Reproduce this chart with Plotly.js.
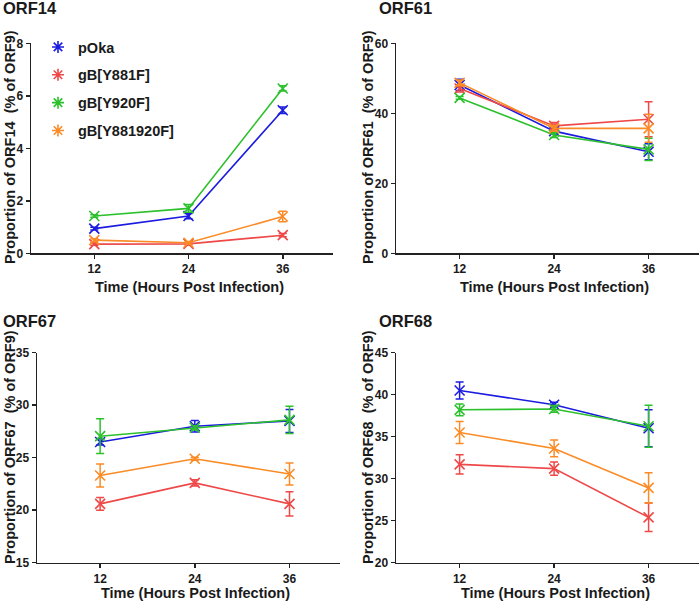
<!DOCTYPE html>
<html>
<head>
<meta charset="utf-8">
<script src="https://cdn.plot.ly/plotly-3.0.1.min.js"></script>
<style>html,body{margin:0;padding:0;background:#fff;}#chart{width:700px;height:607px;}</style>
</head>
<body>
<div id="chart"></div>
<script>
// ---- data ----
const hours = [12, 24, 36];
const seriesNames = ["pOka", "gB[Y881F]", "gB[Y920F]", "gB[Y881920F]"];
const seriesColors = ["#1c1ce0", "#ee4848", "#2cc12c", "#fb8b26"];

// ORF14
const orf14_pOka = [0.94, 1.42, 5.45];
const orf14_Y881F = [0.35, 0.36, 0.69];
const orf14_Y920F = [1.42, 1.71, 6.28];
const orf14_Y881920F = [0.50, 0.40, 1.40];
const orf14_err_pOka = [0.05, 0.1, 0.12];
const orf14_err_Y881F = [0.04, 0.04, 0.06];
const orf14_err_Y920F = [0.05, 0.15, 0.1];
const orf14_err_Y881920F = [0.05, 0.05, 0.2];

// ORF61
const orf61_pOka = [48.1, 34.9, 29.0];
const orf61_Y881F = [47.1, 36.4, 38.3];
const orf61_Y920F = [44.4, 33.8, 29.7];
const orf61_Y881920F = [48.7, 35.7, 35.7];
const orf61_err_pOka = [1.6, 0.8, 2.3];
const orf61_err_Y881F = [1.0, 1.0, 5.0];
const orf61_err_Y920F = [0.4, 0.7, 3.2];
const orf61_err_Y881920F = [0.8, 0.8, 4.0];

// ORF67
const orf67_pOka = [26.5, 28.0, 28.5];
const orf67_Y881F = [20.6, 22.6, 20.6];
const orf67_Y920F = [27.05, 27.85, 28.6];
const orf67_Y881920F = [23.3, 24.9, 23.45];
const orf67_err_pOka = [0.3, 0.55, 1.1];
const orf67_err_Y881F = [0.6, 0.3, 1.15];
const orf67_err_Y920F = [1.65, 0.2, 1.3];
const orf67_err_Y881920F = [1.1, 0.15, 1.05];

// ORF68
const orf68_pOka = [40.5, 38.8, 36.0];
const orf68_Y881F = [31.7, 31.2, 25.4];
const orf68_Y920F = [38.2, 38.3, 36.25];
const orf68_Y881920F = [35.5, 33.6, 28.9];
const orf68_err_pOka = [1.0, 0.3, 2.2];
const orf68_err_Y881F = [1.15, 0.8, 1.7];
const orf68_err_Y920F = [0.7, 0.4, 2.5];
const orf68_err_Y881920F = [1.3, 1.0, 1.8];

const panels = [
  {title: "ORF14", vals: [orf14_pOka, orf14_Y881F, orf14_Y920F, orf14_Y881920F],
   errs: [orf14_err_pOka, orf14_err_Y881F, orf14_err_Y920F, orf14_err_Y881920F],
   yrange: [0, 8], dtick: 2},
  {title: "ORF61", vals: [orf61_pOka, orf61_Y881F, orf61_Y920F, orf61_Y881920F],
   errs: [orf61_err_pOka, orf61_err_Y881F, orf61_err_Y920F, orf61_err_Y881920F],
   yrange: [0, 60], dtick: 20},
  {title: "ORF67", vals: [orf67_pOka, orf67_Y881F, orf67_Y920F, orf67_Y881920F],
   errs: [orf67_err_pOka, orf67_err_Y881F, orf67_err_Y920F, orf67_err_Y881920F],
   yrange: [15, 35], dtick: 5},
  {title: "ORF68", vals: [orf68_pOka, orf68_Y881F, orf68_Y920F, orf68_Y881920F],
   errs: [orf68_err_pOka, orf68_err_Y881F, orf68_err_Y920F, orf68_err_Y881920F],
   yrange: [20, 45], dtick: 5}
];

// ---- layout geometry (pixels) ----
const W = 700, H = 607;
const px = v => v / W;
const py = v => 1 - v / H;
const geo = [
  {x0: 31, x1: 333, xr: [3.94, 42.4], y0: 43.3, y1: 253.3, tx: 1, ty: 8, ytx: 10, yty: 147, xtx: 190, xty: 287},
  {x0: 396, x1: 699, xr: [3.92, 42.4], y0: 43.3, y1: 253.3, tx: 377, ty: 8, ytx: 368, yty: 147, xtx: 554, xty: 287},
  {x0: 37, x1: 340, xr: [4.0, 42.4], y0: 352.7, y1: 562.7, tx: 1, ty: 321, ytx: 10, yty: 447, xtx: 195, xty: 593},
  {x0: 396, x1: 699, xr: [3.92, 42.4], y0: 352.7, y1: 562.7, tx: 377, ty: 321, ytx: 368, yty: 447, xtx: 555, xty: 593}
];

const FONT = "Liberation Sans, Arial, sans-serif";
const TXT = "#1a1a1a";
const traces = [];
const layout = {
  width: W, height: H,
  margin: {l: 0, r: 0, t: 0, b: 0},
  paper_bgcolor: "#fff", plot_bgcolor: "#fff",
  showlegend: true,
  legend: {x: px(38), y: py(31), xanchor: "left", yanchor: "top",
           traceorder: "grouped", tracegroupgap: 6,
           font: {family: FONT, size: 14.5, color: TXT, weight: 700},
           bgcolor: "rgba(0,0,0,0)", itemwidth: 30},
  annotations: []
};

panels.forEach((p, i) => {
  const g = geo[i];
  const n = i + 1;
  const xa = "xaxis" + (n === 1 ? "" : n);
  const ya = "yaxis" + (n === 1 ? "" : n);
  const xr = "x" + (n === 1 ? "" : n);
  const yr = "y" + (n === 1 ? "" : n);
  layout[xa] = {
    domain: [px(g.x0), px(g.x1)], range: g.xr, anchor: yr,
    tickvals: hours, ticktext: hours.map(String),
    showline: true, linecolor: "#222", linewidth: 1.5,
    ticks: "outside", ticklen: 4, tickwidth: 1.5, tickcolor: "#222",
    showgrid: false, zeroline: false,
    tickfont: {family: FONT, size: 12, color: TXT, weight: 700}
  };
  layout[ya] = {
    domain: [py(g.y1), py(g.y0)], range: p.yrange, dtick: p.dtick, anchor: xr,
    showline: true, linecolor: "#222", linewidth: 1.5,
    ticks: "outside", ticklen: 4, tickwidth: 1.5, tickcolor: "#222",
    showgrid: false, zeroline: false,
    tickfont: {family: FONT, size: 12, color: TXT, weight: 700}
  };
  layout.annotations.push({
    text: p.title, xref: "paper", yref: "paper", x: px(g.tx), y: py(g.ty),
    xanchor: "left", yanchor: "middle", showarrow: false,
    font: {family: FONT, size: 16.5, color: TXT, weight: 700}
  });
  layout.annotations.push({
    text: "Proportion of " + p.title + "  (% of ORF9)", xref: "paper", yref: "paper",
    x: px(g.ytx), y: py(g.yty), textangle: -90,
    xanchor: "center", yanchor: "middle", showarrow: false,
    font: {family: FONT, size: 14.5, color: TXT, weight: 700}
  });
  layout.annotations.push({
    text: "Time (Hours Post Infection)", xref: "paper", yref: "paper",
    x: px(g.xtx), y: py(g.xty),
    xanchor: "center", yanchor: "middle", showarrow: false,
    font: {family: FONT, size: 14.5, color: TXT, weight: 700}
  });

  [0, 1, 2, 3].forEach(s => {
    traces.push({
      type: "scatter", mode: "lines+markers",
      x: hours, y: p.vals[s], xaxis: xr, yaxis: yr,
      name: seriesNames[s], showlegend: false, cliponaxis: false,
      line: {color: seriesColors[s], width: 1.6},
      marker: {symbol: "x-thin-open", size: 10, color: seriesColors[s], line: {color: seriesColors[s], width: 1.6}},
      error_y: {type: "data", array: p.errs[s], visible: true, color: seriesColors[s], thickness: 1.5, width: 4}
    });
  });
  if (i === 0) {
    // legend entries (marker only, no visible points)
    [0, 1, 2, 3].forEach(s => {
      traces.push({
        type: "scatter", mode: "markers",
        x: [null], y: [null], xaxis: xr, yaxis: yr,
        name: seriesNames[s], legendgroup: "g" + s, showlegend: true,
        marker: {symbol: "asterisk-open", size: 10, color: seriesColors[s], line: {color: seriesColors[s], width: 1.6}},
        hoverinfo: "skip"
      });
    });
  }
});

Plotly.newPlot("chart", traces, layout, {staticPlot: true, displayModeBar: false});
</script>
</body>
</html>
